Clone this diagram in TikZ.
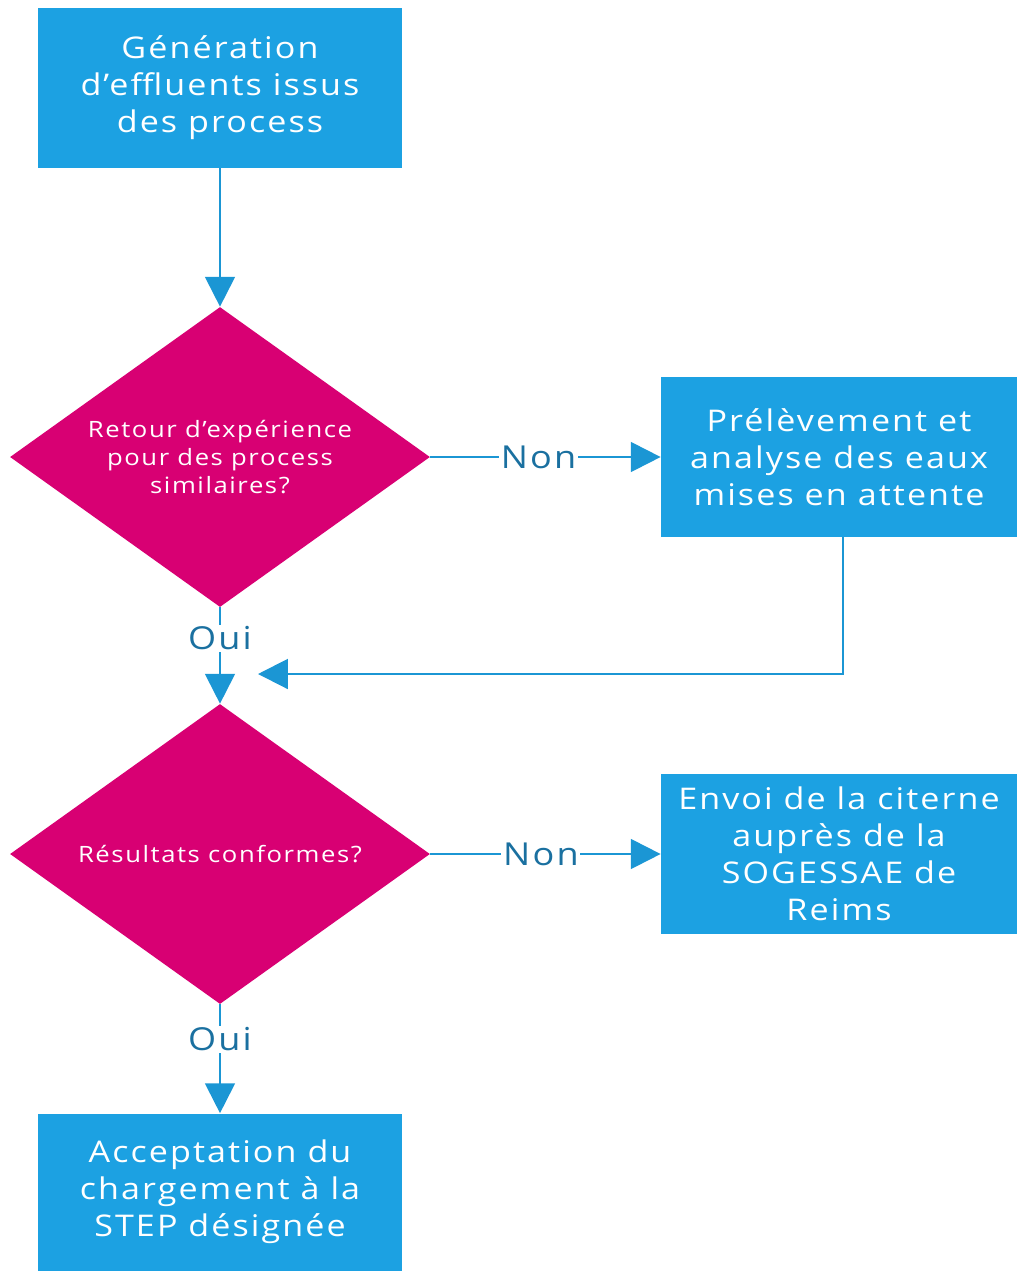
\documentclass[tikz,border=0pt]{standalone}
\usepackage{fontspec}
\setmainfont{Open Sans}[LetterSpace=7,FakeStretch=1.14]
\usetikzlibrary{shapes.geometric,arrows.meta}

\definecolor{boxblue}{RGB}{28,161,226}
\definecolor{decmagenta}{RGB}{216,0,115}
\definecolor{arrowblue}{RGB}{27,150,212}
\definecolor{labelblue}{RGB}{26,112,160}

\tikzset{
  procbox/.style={rectangle, fill=boxblue, text=white, minimum width=7.28cm,
    minimum height=3.2cm, align=center, font=\fontsize{17}{21}\selectfont},
  decision/.style={diamond, aspect=1.4, fill=decmagenta, text=white, minimum width=8.4cm,
    minimum height=6cm, inner sep=0pt, align=center, font=\fontsize{12.8}{16}\selectfont},
  flow/.style={color=arrowblue, line width=1.2pt, -{Triangle[width=17pt,length=17pt]}},
  answer/.style={fill=white, text=labelblue, font=\fontsize{18}{20}\selectfont, inner sep=1pt}
}

\begin{document}
\begin{tikzpicture}
    \useasboundingbox (0,0) rectangle (20.34,-25.42);
    \node[procbox] at (4.4,-1.76) (gen) {Génération\\d’effluents issus\\des process};
    \node[decision] at (4.4,-9.14) (retour) {Retour d’expérience\\pour des process\\similaires?};
    \node[procbox, minimum width=7.12cm] at (16.78,-9.14) (prelev) {Prélèvement et\\analyse des eaux\\mises en attente};
    \node[decision] at (4.4,-17.08) (result) {Résultats conformes?};
    \node[procbox, minimum width=7.12cm] at (16.78,-17.08) (envoi) {Envoi de la citerne\\auprès de la\\SOGESSAE de\\Reims};
    \node[procbox, minimum height=3.14cm] at (4.4,-23.84) (accept) {Acceptation du\\chargement à la\\STEP désignée};
    \coordinate (merge) at (5.16,-13.48);
    \path [flow] (gen) edge (retour);
    \path [flow] (retour) edge node[answer, pos=0.47] {Non} (prelev);
    \path [flow] (retour) edge node[answer, pos=0.32] {Oui} (result);
    \draw [flow] ([xshift=0.08cm]prelev.south) |- (merge);
    \path [flow] (result) edge node[answer, pos=0.48] {Non} (envoi);
    \path [flow] (result) edge node[answer, pos=0.32] {Oui} (accept);
\end{tikzpicture}
\end{document}
